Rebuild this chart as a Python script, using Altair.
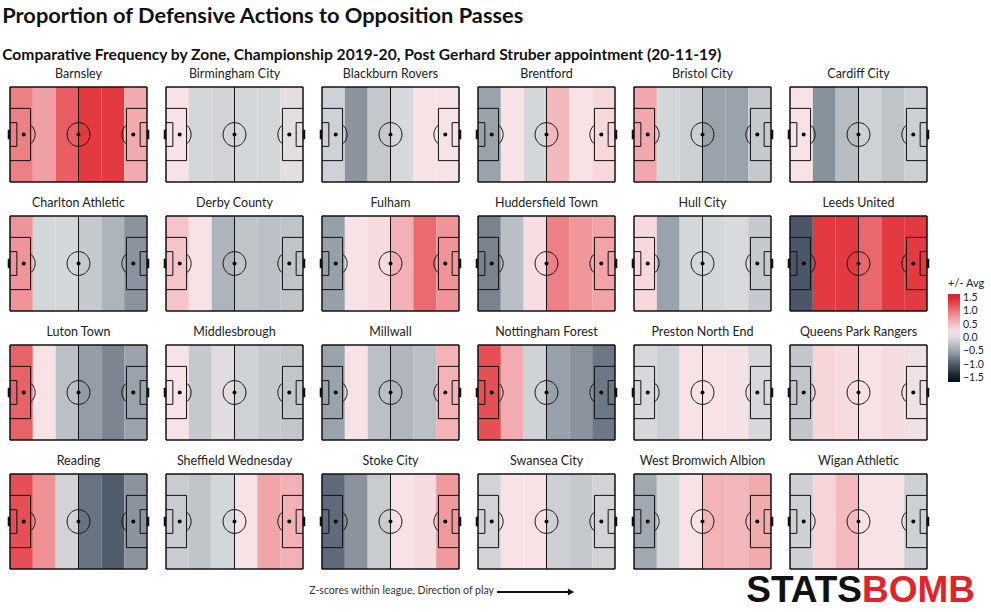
import altair as alt
import pandas as pd
import numpy as np

teams = ["Barnsley", "Birmingham City", "Blackburn Rovers", "Brentford", "Bristol City", "Cardiff City",
         "Charlton Athletic", "Derby County", "Fulham", "Huddersfield Town", "Hull City", "Leeds United",
         "Luton Town", "Middlesbrough", "Millwall", "Nottingham Forest", "Preston North End", "Queens Park Rangers",
         "Reading", "Sheffield Wednesday", "Stoke City", "Swansea City", "West Bromwich Albion", "Wigan Athletic"]

# z-scores for six zones (own goal -> opposition goal)
zone_z = [
    [0.93, 0.73, 1.14, 1.36, 1.36, 0.66],
    [0.24, -0.03, -0.06, -0.03, -0.03, 0.10],
    [-0.08, -0.60, -0.15, -0.02, 0.24, 0.24],
    [-0.50, 0.24, -0.03, 0.56, 0.24, 0.33],
    [0.68, -0.03, -0.10, -0.50, -0.50, -0.15],
    [0.24, -0.61, -0.26, -0.08, -0.20, -0.10],
    [0.80, -0.03, -0.03, -0.15, -0.34, -0.60],
    [0.47, 0.24, -0.34, -0.20, -0.23, -0.20],
    [-0.52, 0.24, 0.30, 0.61, 1.07, 0.80],
    [-0.71, -0.24, 0.29, 0.93, 0.79, 0.71],
    [0.33, -0.50, -0.03, -0.03, -0.01, -0.15],
    [-1.00, 1.36, 1.36, 1.08, 1.36, 1.36],
    [1.11, 0.24, -0.23, -0.54, -0.69, -0.50],
    [0.24, -0.15, 0.06, -0.08, -0.15, -0.18],
    [-0.50, 0.24, -0.23, -0.32, -0.23, 0.59],
    [1.23, 0.64, -0.08, -0.51, -0.60, -0.78],
    [-0.02, -0.10, 0.24, 0.24, 0.22, -0.02],
    [-0.18, 0.34, 0.30, 0.24, 0.30, 0.18],
    [1.23, 0.82, -0.06, -0.81, -0.96, -0.60],
    [-0.13, -0.19, -0.03, 0.24, 0.69, 0.61],
    [-0.87, -0.60, -0.13, 0.24, 0.30, 0.77],
    [-0.06, 0.24, 0.26, -0.10, -0.15, -0.06],
    [-0.45, -0.03, 0.24, 0.59, 0.56, 0.66],
    [-0.09, 0.36, 0.54, 0.24, 0.24, -0.09],
]

legend_values = [1.5, 1.0, 0.5, 0.0, -0.5, -1.0, -1.5]
color_domain = [-1.63, -1.5, -1.25, -1.0, -0.75, -0.5, -0.25, 0.0, 0.25, 0.5, 0.75, 1.0, 1.25, 1.5, 1.63]
color_range = ["#08101c", "#0b1422", "#2b3645", "#4a5768", "#727d8a", "#9aa2ab", "#b9bec4", "#d8dadd",
               "#f8e3e6", "#f4c0c4", "#f09da1", "#eb757a", "#e54c52", "#e0242b", "#de1f26"]

# pitch geometry (StatsBomb 120 x 80)
L, W = 120, 80
zone_edges = [0, 20, 40, 60, 80, 100, 120]

def pitch_segments():
    segs = []
    segs += [(0, 0, L, 0, 1.5), (0, W, L, W, 1.5), (0, 0, 0, W, 1.5), (L, 0, L, W, 1.5)]
    segs.append((60, 0, 60, W, 1))
    for side in (0, 1):
        f = (lambda v: v) if side == 0 else (lambda v: L - v)
        segs += [(f(0), 18, f(18), 18, 1), (f(18), 18, f(18), 62, 1), (f(18), 62, f(0), 62, 1)]
        segs += [(f(0), 30, f(6), 30, 1), (f(6), 30, f(6), 50, 1), (f(6), 50, f(0), 50, 1)]
    t = np.linspace(0, 2 * np.pi, 49)
    cx, cy = 60 + 10 * np.cos(t), 40 + 10 * np.sin(t)
    for i in range(48):
        segs.append((cx[i], cy[i], cx[i + 1], cy[i + 1], 1))
    a = np.arccos(6 / 10)
    t = np.linspace(-a, a, 17)
    for px, sgn in ((12, 1), (108, -1)):
        ax_, ay_ = px + sgn * 10 * np.cos(t), 40 + 10 * np.sin(t)
        for i in range(16):
            segs.append((ax_[i], ay_[i], ax_[i + 1], ay_[i + 1], 1))
    return segs

segs = pitch_segments()
goals = [(-0.9, 36, -0.9, 44), (L + 0.9, 36, L + 0.9, 44)]
spots = [(12, 40), (60, 40), (108, 40)]

rows = []
for team, zs in zip(teams, zone_z):
    for i, z in enumerate(zs):
        rows.append(dict(team=team, kind="zone", x=zone_edges[i], x2=zone_edges[i + 1], y=0, y2=W, z=z))
    for (x1, y1, x2, y2, w) in segs:
        rows.append(dict(team=team, kind="thin" if w == 1 else "thick", x=x1, x2=x2, y=y1, y2=y2, z=None))
    for (x1, y1, x2, y2) in goals:
        rows.append(dict(team=team, kind="goal", x=x1, x2=x2, y=y1, y2=y2, z=None))
    for (x1, y1) in spots:
        rows.append(dict(team=team, kind="spot", x=x1, x2=x1, y=y1, y2=y1, z=None))
df = pd.DataFrame(rows)

xs = alt.Scale(domain=[0, L], nice=False, zero=False)
ys = alt.Scale(domain=[0, W], nice=False, zero=False)
X = alt.X("x:Q", scale=xs, axis=None)
Y = alt.Y("y:Q", scale=ys, axis=None)

base = alt.Chart()
zones = base.mark_rect().encode(
    x=X, x2="x2:Q", y=Y, y2="y2:Q",
    color=alt.Color("z:Q", scale=alt.Scale(domain=color_domain, range=color_range, interpolate="rgb"),
                    legend=alt.Legend(title="+/- Avg", values=legend_values, format=".1f", orient="none",
                                      legendX=938, legendY=191, gradientLength=88, gradientThickness=12,
                                      titleFontSize=11, titleFontWeight="normal", titleFont="Lato",
                                      labelFont="Lato", labelFontSize=10.5, titleColor="#222", labelColor="#222",
                                      labelOverlap=False, titlePadding=5,
                                      labelOffset=3, direction="vertical"))
).transform_filter(alt.datum.kind == "zone")
thin = base.mark_rule(color="#111", strokeWidth=1).encode(x=X, x2="x2:Q", y=Y, y2="y2:Q").transform_filter(alt.datum.kind == "thin")
thick = base.mark_rule(color="#111", strokeWidth=1.5).encode(x=X, x2="x2:Q", y=Y, y2="y2:Q").transform_filter(alt.datum.kind == "thick")
goal = base.mark_rule(color="#111", strokeWidth=2.5).encode(x=X, x2="x2:Q", y=Y, y2="y2:Q").transform_filter(alt.datum.kind == "goal")
spot = base.mark_point(filled=True, color="#000", opacity=1, size=16).encode(x=X, y=Y).transform_filter(alt.datum.kind == "spot")

panel = alt.layer(zones, thin, thick, goal, spot, data=df).properties(width=137, height=95)

grid = panel.facet(
    facet=alt.Facet("team:N", sort=teams, title=None,
                    header=alt.Header(labelFont="Lato", labelFontSize=12.5, labelColor="#222", labelPadding=6)),
    columns=6,
    spacing={"row": 34, "column": 19},
    bounds="flush",
)

note = pd.DataFrame({"t": ["Z-scores within league, Direction of play"]})
bb = alt.Chart(note)
txt = bb.mark_text(align="right", baseline="middle", font="Lato",
                   fontSize=10.5, color="#333").encode(x=alt.value(484), y=alt.value(7), text="t:N")
arrow = bb.mark_rule(color="#111", strokeWidth=2).encode(x=alt.value(487), x2=alt.value(558), y=alt.value(8))
head = bb.mark_point(shape="triangle-right", filled=True, color="#111", opacity=1, size=50).encode(
    x=alt.value(561), y=alt.value(8))
logo1 = bb.mark_text(align="right", baseline="middle", font="Liberation Sans", fontWeight="bold", fontSize=37,
                     color="#111", text="STATS").encode(x=alt.value(852), y=alt.value(7))
logo2 = bb.mark_text(align="left", baseline="middle", font="Liberation Sans", fontWeight="bold", fontSize=37,
                     color="#e0242b", text="BOMB").encode(x=alt.value(852), y=alt.value(7))
bottom = alt.layer(txt, arrow, head, logo1, logo2).properties(width=917, height=16)

chart = alt.vconcat(grid, bottom, spacing=0).properties(
    title=alt.TitleParams(
        text="Proportion of Defensive Actions to Opposition Passes",
        subtitle="Comparative Frequency by Zone, Championship 2019-20, Post Gerhard Struber appointment (20-11-19)",
        anchor="start", font="Lato", fontSize=21.8, fontWeight="bold", color="#111",
        subtitleFont="Lato", subtitleFontSize=15.6, subtitleFontWeight="bold", subtitleColor="#111",
        subtitlePadding=20, offset=4, dx=-5),
    padding={"left": 2, "top": 5, "right": 2, "bottom": 1},
).configure_view(stroke="transparent")

chart.save("out.html", embed_options={"renderer": "svg", "actions": False})
